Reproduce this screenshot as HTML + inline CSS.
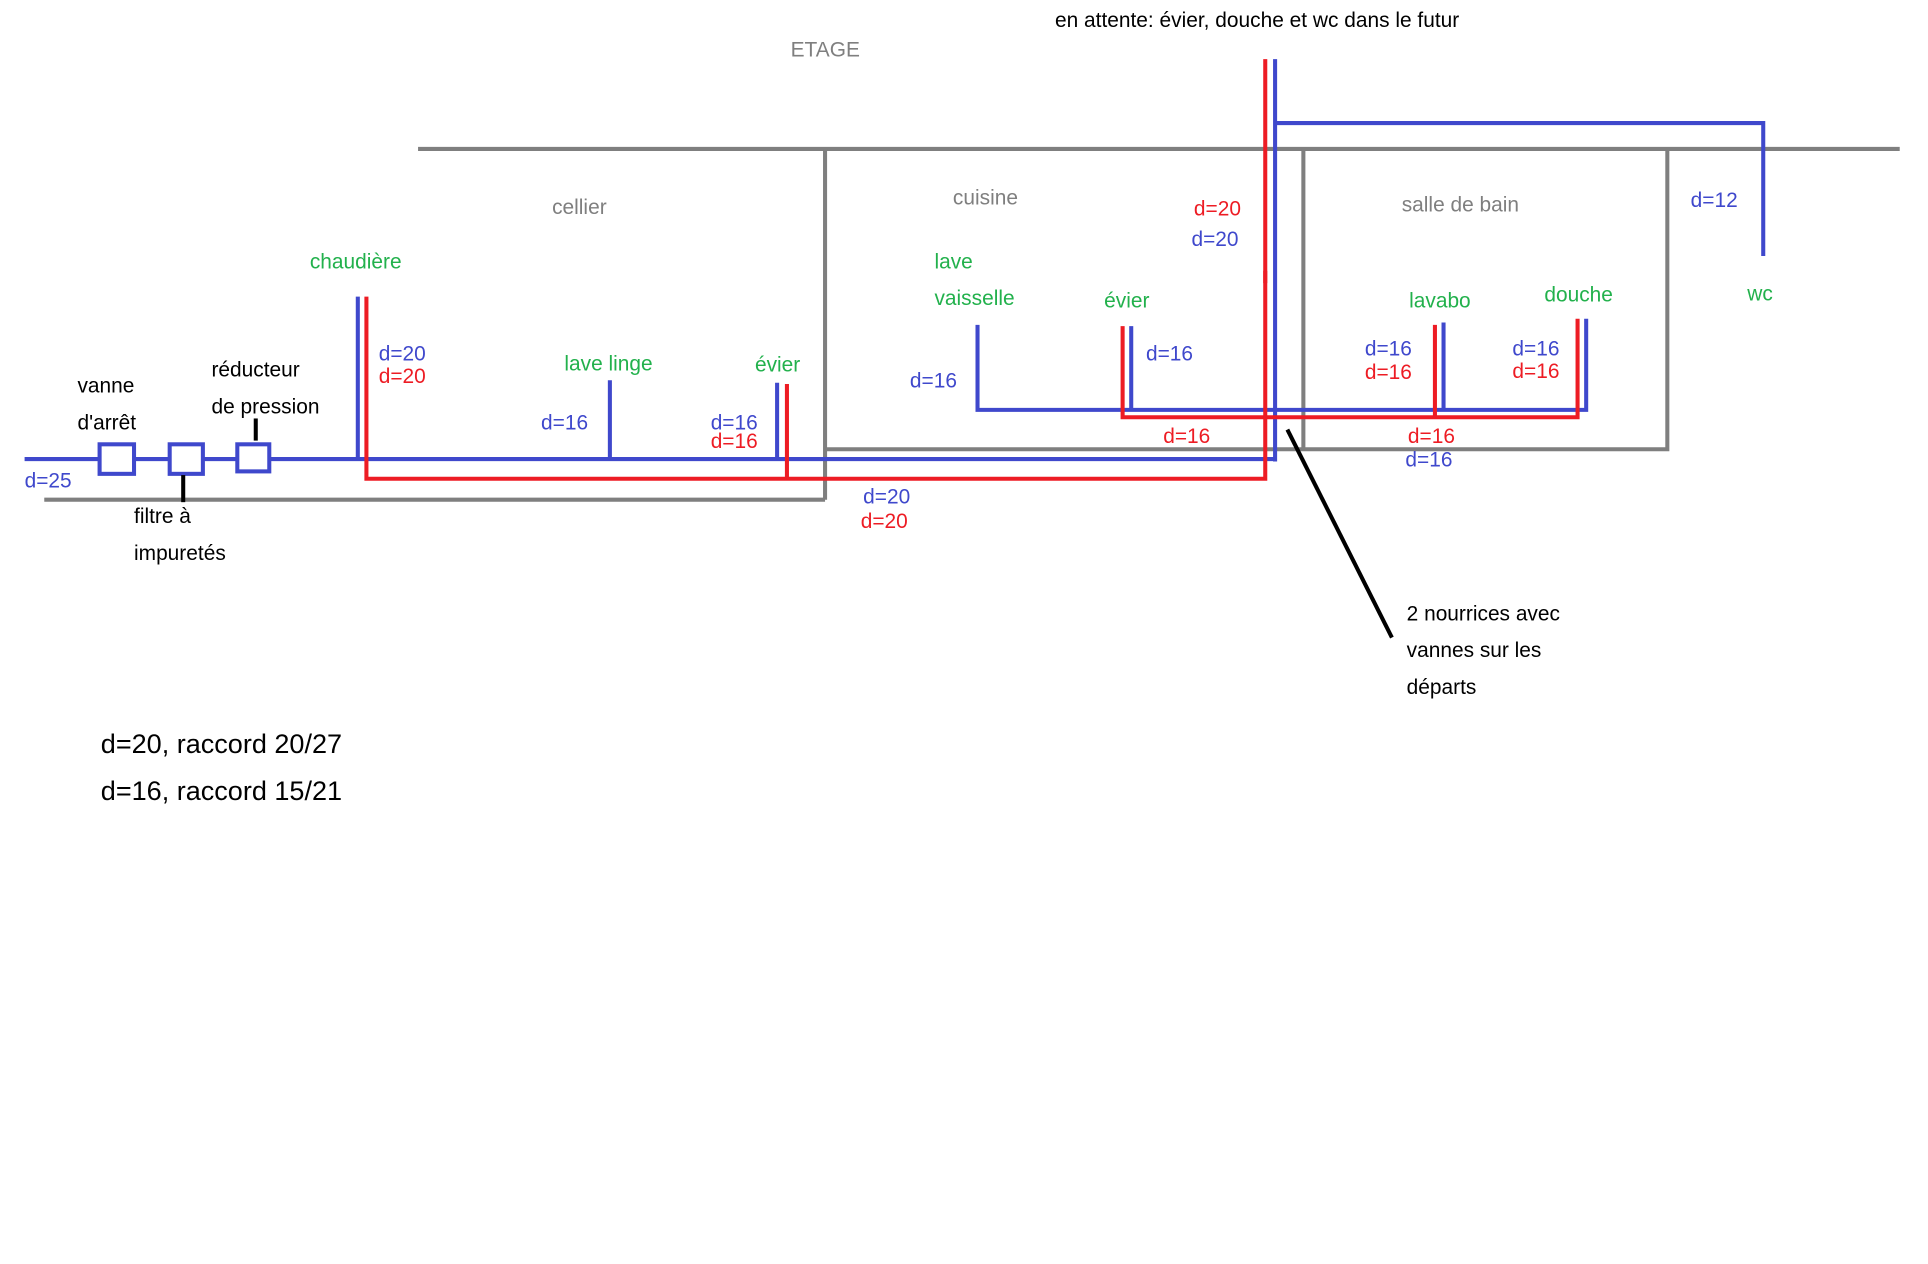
<!DOCTYPE html>
<html><head><meta charset="utf-8"><style>
html,body{margin:0;padding:0;background:#fff;}
svg{display:block;}
text{font-family:"Comic Sans MS","Liberation Sans",sans-serif;font-size:17px;}
.b{fill:#3f48cc}.r{fill:#ed1c24}.g{fill:#22b14c}.k{fill:#000}.y{fill:#7f7f7f}
</style></head><body>
<svg width="1928" height="1264" viewBox="0 0 1568 1027" preserveAspectRatio="none" xmlns="http://www.w3.org/2000/svg">
<g fill="none" stroke-linecap="butt">
<g stroke="#7f7f7f" stroke-width="3.3">
<line x1="340" y1="121" x2="1545" y2="121"/>
<line x1="671" y1="121" x2="671" y2="406"/>
<line x1="36" y1="406" x2="671" y2="406"/>
<polyline points="671,365 1356,365 1356,121"/>
<line x1="1060" y1="121" x2="1060" y2="365"/>
</g>
<g stroke="#3f48cc" stroke-width="3.3">
<line x1="20" y1="373" x2="81" y2="373"/>
<line x1="109" y1="373" x2="138" y2="373"/>
<line x1="165" y1="373" x2="193" y2="373"/>
<line x1="219" y1="373" x2="1037" y2="373"/>
<rect x="81" y="361" width="28" height="24"/>
<rect x="138" y="361" width="27" height="24"/>
<rect x="193" y="361" width="26" height="22"/>
<line x1="1037" y1="48" x2="1037" y2="375"/>
<polyline points="1037,100 1434,100 1434,208"/>
<line x1="291" y1="241" x2="291" y2="373"/>
<line x1="496" y1="309" x2="496" y2="373"/>
<line x1="632" y1="311" x2="632" y2="373"/>
<polyline points="795,264 795,333 1290,333 1290,259"/>
<line x1="920" y1="265" x2="920" y2="333"/>
<line x1="1174" y1="262" x2="1174" y2="333"/>
</g>
<g stroke="#ed1c24" stroke-width="3.3">
<polyline points="298,241 298,389 1029,389 1029,220"/>
<line x1="1029" y1="48" x2="1029" y2="230"/>
<line x1="640" y1="312" x2="640" y2="389"/>
<polyline points="913,265 913,339 1283,339 1283,259"/>
<line x1="1167" y1="264" x2="1167" y2="339"/>
</g>
<g stroke="#000" stroke-width="3.3">
<line x1="149" y1="386" x2="149" y2="408"/>
<line x1="208" y1="340" x2="208" y2="358"/>
<line x1="1047" y1="349" x2="1132" y2="518"/>
</g>
</g>
<text x="858" y="22" class="k">en attente: évier, douche et wc dans le futur</text>
<text x="643" y="46" class="y">ETAGE</text>
<text x="449" y="174" class="y">cellier</text>
<text x="775" y="166" class="y">cuisine</text>
<text x="1140" y="172" class="y">salle de bain</text>
<text x="971" y="175" class="r">d=20</text>
<text x="969" y="200" class="b">d=20</text>
<text x="1375" y="168" class="b">d=12</text>
<text x="252" y="218" class="g">chaudière</text>
<text x="760" y="218" class="g">lave</text>
<text x="760" y="248" class="g">vaisselle</text>
<text x="898" y="250" class="g">évier</text>
<text x="1146" y="250" class="g">lavabo</text>
<text x="1256" y="245" class="g">douche</text>
<text x="1421" y="244" class="g">wc</text>
<text x="308" y="293" class="b">d=20</text>
<text x="308" y="311" class="r">d=20</text>
<text x="459" y="301" class="g">lave linge</text>
<text x="614" y="302" class="g">évier</text>
<text x="932" y="293" class="b">d=16</text>
<text x="1110" y="289" class="b">d=16</text>
<text x="1110" y="308" class="r">d=16</text>
<text x="1230" y="289" class="b">d=16</text>
<text x="1230" y="307" class="r">d=16</text>
<text x="740" y="315" class="b">d=16</text>
<text x="440" y="349" class="b">d=16</text>
<text x="578" y="349" class="b">d=16</text>
<text x="578" y="364" class="r">d=16</text>
<text x="946" y="360" class="r">d=16</text>
<text x="1145" y="360" class="r">d=16</text>
<text x="1143" y="379" class="b">d=16</text>
<text x="63" y="319" class="k">vanne</text>
<text x="63" y="349" class="k">d'arrêt</text>
<text x="172" y="306" class="k">réducteur</text>
<text x="172" y="336" class="k">de pression</text>
<text x="20" y="396" class="b">d=25</text>
<text x="109" y="425" class="k">filtre à</text>
<text x="109" y="455" class="k">impuretés</text>
<text x="702" y="409" class="b">d=20</text>
<text x="700" y="429" class="r">d=20</text>
<text x="1144" y="504" class="k">2 nourrices avec</text>
<text x="1144" y="534" class="k">vannes sur les</text>
<text x="1144" y="564" class="k">départs</text>
<text x="82" y="612" class="k" style="font-size:22px">d=20, raccord 20/27</text>
<text x="82" y="650" class="k" style="font-size:22px">d=16, raccord 15/21</text>
</svg>
</body></html>
